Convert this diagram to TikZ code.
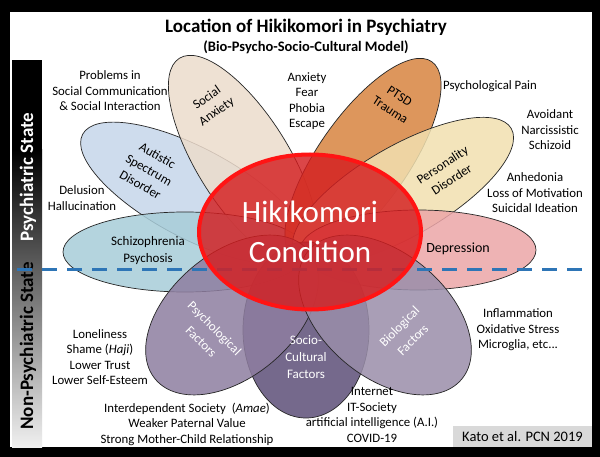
\documentclass[tikz,border=0pt]{standalone}
\usepackage{fontspec}
\setmainfont{Carlito}
\usetikzlibrary{shapes.geometric}
\definecolor{schizo}{RGB}{168,205,217}
\definecolor{autism}{RGB}{198,214,234}
\definecolor{social}{RGB}{236,220,204}
\definecolor{ptsd}{RGB}{216,132,64}
\definecolor{person}{RGB}{241,224,176}
\definecolor{depress}{RGB}{236,166,168}
\definecolor{psycho}{RGB}{142,126,160}
\definecolor{bio}{RGB}{154,142,170}
\definecolor{socio}{RGB}{94,79,120}
\definecolor{hikired}{RGB}{212,30,32}
\definecolor{hikiline}{RGB}{255,20,20}
\definecolor{dashblue}{RGB}{46,117,182}

\begin{document}
\begin{tikzpicture}[x=1pt,y=-1pt,
    petal/.style={draw=black!85, line width=0.7pt, fill opacity=0.85},
    note/.style={align=center, font=\fontsize{12.8}{15.5}\selectfont},
    plabel/.style={align=center, font=\fontsize{13}{17}\selectfont},
    wlabel/.style={plabel, text=white},
    sidetext/.style={rotate=90, font=\fontsize{19}{22}\selectfont\bfseries}]
    \useasboundingbox (0,0) rectangle (600,457);
    \fill[black] (0,0) rectangle (600,457);
    \fill[white] (10,12) rectangle (592,447);
    \fill[black] (12,60) rectangle (42,151);
    \shade[top color=black, bottom color=black!6] (12,150) rectangle (42,447);
    \node[sidetext, text=white] (psyState) at (28,177) {Psychiatric State};
    \node[sidetext] (nonState) at (28,346) {Non-Psychiatric State};

    \node[font=\fontsize{19}{22}\selectfont\bfseries] (title) at (306,27) {Location of Hikikomori in Psychiatry};
    \node[font=\fontsize{14.5}{17}\selectfont\bfseries] (subtitle) at (306,47) {(Bio-Psycho-Socio-Cultural Model)};

    \foreach \pc/\px/\py/\prot/\pa/\pb in {
        autism/193/193/152/125/45,
        social/243/160/122/120/46,
        schizo/185/252/0/122/40,
        ptsd/363/160/55/120/45,
        person/403/191/30/125/45,
        depress/418/250/0/118/40,
        socio/306/330/90/88/63,
        psycho/232/315/40/100/62,
        bio/385/315/-40/100/62}
    \draw[petal, fill=\pc] (\px,\py) ellipse [x radius=\pa pt, y radius=\pb pt, rotate=\prot];

    \coordinate (dashL) at (17,270);
    \coordinate (dashR) at (585,270);
    \draw[dashblue, line width=3pt, dash pattern=on 15pt off 10pt] (dashL) -- (dashR);

    \node[ellipse, minimum width=222pt, minimum height=155pt, inner sep=0pt,
        draw=hikiline, line width=4pt, fill=hikired, fill opacity=0.82, text opacity=1,
        text=white, align=center, font=\fontsize{31}{40}\selectfont] (hiki) at (310,232) {Hikikomori\\Condition};

    \node[plabel] (lblSchizo) at (148,251) {Schizophrenia\\Psychosis};
    \node[plabel, rotate=-30] (lblAutism) at (149,170) {Autistic\\Spectrum\\Disorder};
    \node[plabel, rotate=35] (lblSocial) at (212,105) {Social\\Anxiety};
    \node[plabel, rotate=-33] (lblPtsd) at (395,103) {PTSD\\Trauma};
    \node[plabel, rotate=33] (lblPerson) at (447,172) {Personality\\Disorder};
    \node[plabel, font=\fontsize{14}{16}\selectfont] (lblDepress) at (458,249) {Depression};
    \node[wlabel, rotate=-45, font=\fontsize{13}{19}\selectfont] (lblPsycho) at (208,335) {Psychological\\Factors};
    \node[wlabel] (lblSocio) at (306,357) {Socio-\\Cultural\\Factors};
    \node[wlabel, rotate=45, font=\fontsize{13}{19}\selectfont] (lblBio) at (406,333) {Biological\\Factors};

    \node[note] (nProblems) at (110,91) {Problems in\\Social Communication\\\& Social Interaction};
    \node[note] (nAnxiety) at (307,101) {Anxiety\\Fear\\Phobia\\Escape};
    \node[note] (nPain) at (490,86) {Psychological Pain};
    \node[note] (nAvoid) at (550,130) {Avoidant\\Narcissistic\\Schizoid};
    \node[note] (nAnhed) at (535,193) {Anhedonia\\Loss of Motivation\\Suicidal Ideation};
    \node[note] (nDelusion) at (82,198) {Delusion\\Hallucination};
    \node[note] (nLonely) at (100,357) {Loneliness\\Shame (\textit{Haji})\\Lower Trust\\Lower Self-Esteem};
    \node[note] (nSociety) at (187,424) {Interdependent Society~~(\textit{Amae})\\Weaker Paternal Value\\Strong Mother-Child Relationship};
    \node[note] (nInternet) at (372,415) {Internet\\IT-Society\\artificial intelligence (A.I.)\\COVID-19};
    \node[note] (nInflam) at (518,330) {Inflammation\\Oxidative Stress\\Microglia, etc...};

    \node[fill=black!15, minimum width=139pt, minimum height=21pt, inner sep=0pt,
        font=\fontsize{14.5}{16}\selectfont] (kato) at (522.5,436.5) {Kato et al. PCN 2019};
\end{tikzpicture}
\end{document}
